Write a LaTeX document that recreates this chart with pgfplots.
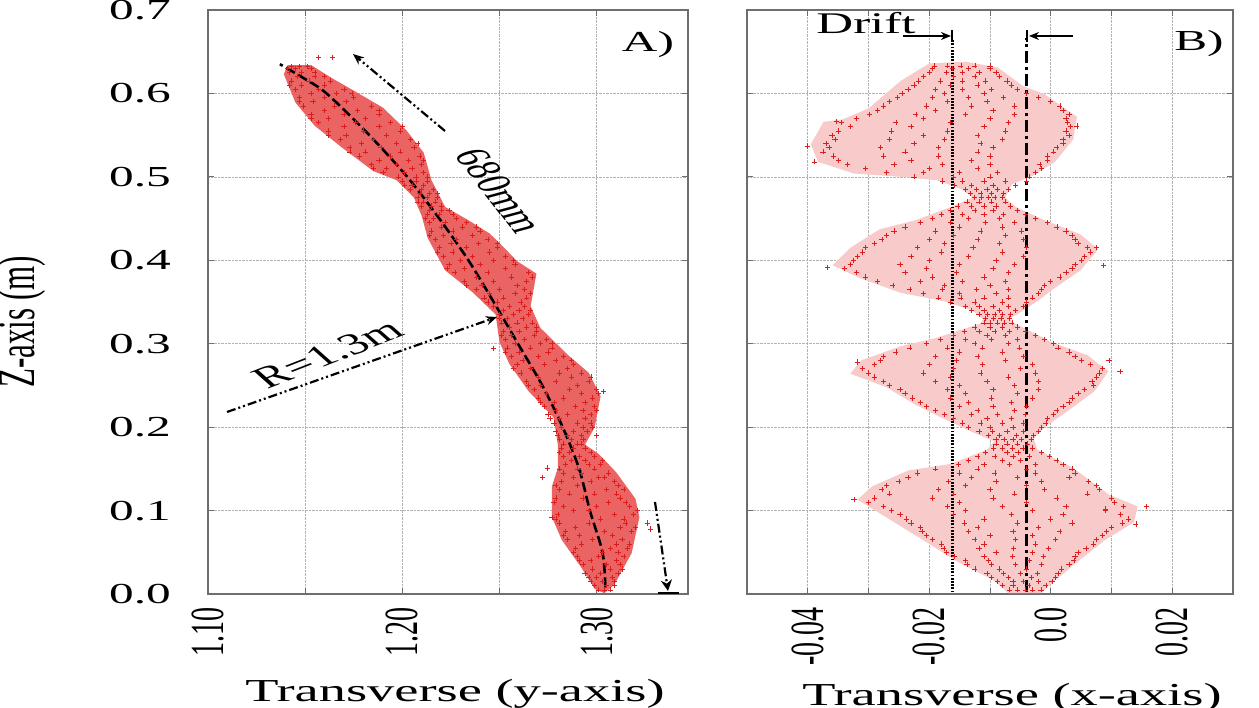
\documentclass[border=0pt]{standalone}
\usepackage{fontspec}
\setmainfont{Liberation Serif}
\usepackage{graphicx}
\usepackage{pgfplots}
\usepackage{pgfplotstable}
\pgfplotsset{compat=1.18}
\usetikzlibrary{arrows.meta}
\definecolor{ptred}{RGB}{218,30,30}
\definecolor{cloudA}{RGB}{234,100,100}
\definecolor{cloudB}{RGB}{248,202,202}
\definecolor{frame}{RGB}{110,110,110}
\newcommand{\hs}[2][29]{\scalebox{1.7}[1]{\fontsize{#1}{#1}\selectfont #2}}
\newcommand{\vs}[2][28]{\scalebox{1.7}[1]{\rotatebox{90}{\fontsize{#1}{#1}\selectfont #2}}}
\newcommand{\rs}[3]{\scalebox{1.7}[1]{\rotatebox{#1}{\fontsize{#2}{#2}\selectfont #3}}}

\pgfplotstableread{
z a b c
0.005 1.301 1.304 1.307
0.015 1.297 1.303 1.309
0.025 1.294 1.302 1.311
0.035 1.293 1.305 1.312
0.045 1.290 1.301 1.314
0.055 1.289 1.307 1.316
0.065 1.285 1.298 1.313
0.075 1.284 1.304 1.318
0.085 1.281 1.296 1.315
0.095 1.280 1.309 1.319
0.105 1.283 1.300 1.317
0.115 1.279 1.293 1.312
0.125 1.281 1.305 1.314
0.135 1.282 1.297 1.309
0.145 1.283 1.292 1.306
0.155 1.284 1.296 1.302
0.165 1.283 1.291 1.299
0.175 1.282 1.288 1.294
0.185 1.281 1.287 1.293
0.195 1.279 1.288 1.295
0.205 1.278 1.290 1.297
0.215 1.275 1.285 1.297
0.225 1.273 1.289 1.299
0.235 1.270 1.283 1.298
0.245 1.268 1.286 1.300
0.255 1.264 1.279 1.296
0.265 1.261 1.281 1.292
0.275 1.259 1.273 1.288
0.285 1.256 1.270 1.283
0.295 1.254 1.266 1.277
0.305 1.253 1.263 1.274
0.315 1.252 1.260 1.269
0.325 1.251 1.259 1.267
0.335 1.250 1.257 1.265
0.345 1.247 1.255 1.263
0.355 1.242 1.252 1.264
0.365 1.238 1.250 1.263
0.375 1.232 1.247 1.264
0.385 1.227 1.244 1.265
0.395 1.224 1.240 1.258
0.405 1.221 1.236 1.253
0.415 1.219 1.233 1.249
0.425 1.217 1.228 1.244
0.435 1.215 1.226 1.240
0.445 1.214 1.222 1.233
0.455 1.213 1.219 1.226
0.465 1.210 1.215 1.220
0.475 1.208 1.213 1.218
0.485 1.204 1.210 1.216
0.495 1.200 1.207 1.213
0.505 1.190 1.201 1.211
0.515 1.184 1.197 1.210
0.525 1.178 1.194 1.209
0.535 1.173 1.189 1.206
0.545 1.168 1.185 1.204
0.555 1.162 1.180 1.199
0.565 1.157 1.176 1.194
0.575 1.153 1.170 1.188
0.585 1.149 1.165 1.184
0.595 1.147 1.160 1.175
0.605 1.145 1.157 1.170
0.615 1.143 1.152 1.163
0.625 1.142 1.148 1.155
0.632 1.143 1.147 1.151
}\tabA

\pgfplotstableread{
z a b c
0.010 1.299 1.305 1.309
0.020 1.296 1.300 1.308
0.030 1.298 1.307 1.313
0.040 1.291 1.297 1.310
0.050 1.288 1.303 1.311
0.060 1.292 1.310 1.317
0.070 1.283 1.291 1.308
0.080 1.289 1.312 1.320
0.090 1.279 1.302 1.314
0.100 1.288 1.296 1.321
0.110 1.278 1.306 1.315
0.120 1.286 1.299 1.310
0.130 1.279 1.290 1.311
0.140 1.288 1.301 1.304
0.150 1.281 1.290 1.299
0.160 1.287 1.294 1.303
0.170 1.281 1.286 1.297
0.180 1.283 1.290 1.292
0.190 1.280 1.285 1.292
0.200 1.282 1.293 1.298
0.210 1.276 1.281 1.294
0.220 1.279 1.293 1.300
0.230 1.271 1.278 1.294
0.240 1.274 1.292 1.301
0.250 1.265 1.271 1.290
0.260 1.270 1.287 1.297
0.270 1.257 1.266 1.285
0.280 1.262 1.279 1.287
0.290 1.253 1.260 1.275
0.300 1.258 1.271 1.277
0.310 1.251 1.256 1.268
0.320 1.255 1.264 1.269
0.330 1.250 1.254 1.262
0.340 1.252 1.260 1.266
0.350 1.244 1.249 1.261
0.360 1.245 1.258 1.266
0.370 1.233 1.241 1.259
0.380 1.238 1.256 1.267
0.390 1.223 1.232 1.253
0.400 1.230 1.247 1.257
0.410 1.218 1.226 1.245
0.420 1.225 1.239 1.249
0.430 1.214 1.221 1.236
0.440 1.220 1.231 1.238
0.450 1.212 1.216 1.228
0.460 1.214 1.220 1.224
0.470 1.208 1.211 1.217
0.480 1.209 1.214 1.218
0.490 1.201 1.205 1.211
0.500 1.198 1.207 1.213
0.510 1.185 1.192 1.205
0.520 1.188 1.203 1.211
0.530 1.173 1.181 1.199
0.540 1.179 1.197 1.208
0.550 1.162 1.171 1.192
0.560 1.170 1.188 1.200
0.570 1.153 1.162 1.181
0.580 1.160 1.177 1.188
0.590 1.147 1.154 1.171
0.600 1.153 1.166 1.174
0.610 1.142 1.148 1.160
0.620 1.146 1.155 1.160
0.630 1.141 1.145 1.153
}\tabAA

\pgfplotstableread{
z a b c d e
0.005 -0.0068 -0.0055 -0.0042 -0.0030 -0.0016
0.015 -0.0088 -0.0062 -0.0045 -0.0020 0.0002
0.025 -0.0105 -0.0078 -0.0050 -0.0022 0.0012
0.035 -0.0138 -0.0098 -0.0058 -0.0015 0.0030
0.045 -0.0158 -0.0110 -0.0063 -0.0012 0.0040
0.055 -0.0176 -0.0118 -0.0061 -0.0004 0.0058
0.065 -0.0195 -0.0125 -0.0058 0.0008 0.0075
0.075 -0.0212 -0.0135 -0.0062 0.0015 0.0092
0.085 -0.0230 -0.0142 -0.0055 0.0035 0.0118
0.095 -0.0248 -0.0160 -0.0065 0.0020 0.0115
0.105 -0.0275 -0.0170 -0.0080 0.0025 0.0120
0.115 -0.0290 -0.0195 -0.0095 0.0010 0.0100
0.125 -0.0278 -0.0185 -0.0100 -0.0010 0.0080
0.135 -0.0250 -0.0168 -0.0090 -0.0015 0.0062
0.145 -0.0220 -0.0150 -0.0092 -0.0025 0.0040
0.155 -0.0152 -0.0110 -0.0068 -0.0025 0.0020
0.165 -0.0120 -0.0092 -0.0062 -0.0035 -0.0002
0.175 -0.0094 -0.0080 -0.0063 -0.0046 -0.0030
0.185 -0.0090 -0.0077 -0.0062 -0.0048 -0.0032
0.195 -0.0118 -0.0096 -0.0072 -0.0045 -0.0020
0.205 -0.0145 -0.0115 -0.0080 -0.0045 -0.0008
0.215 -0.0175 -0.0130 -0.0088 -0.0042 0.0005
0.225 -0.0205 -0.0150 -0.0095 -0.0040 0.0020
0.235 -0.0228 -0.0165 -0.0098 -0.0030 0.0035
0.245 -0.0248 -0.0170 -0.0095 -0.0020 0.0055
0.255 -0.0275 -0.0190 -0.0105 -0.0020 0.0068
0.265 -0.0300 -0.0210 -0.0115 -0.0025 0.0080
0.275 -0.0290 -0.0200 -0.0112 -0.0030 0.0065
0.285 -0.0275 -0.0190 -0.0120 -0.0045 0.0040
0.295 -0.0232 -0.0170 -0.0112 -0.0052 0.0012
0.305 -0.0182 -0.0140 -0.0098 -0.0055 -0.0010
0.315 -0.0142 -0.0118 -0.0092 -0.0068 -0.0042
0.325 -0.0110 -0.0100 -0.0088 -0.0076 -0.0064
0.335 -0.0118 -0.0104 -0.0092 -0.0080 -0.0066
0.345 -0.0140 -0.0118 -0.0095 -0.0070 -0.0045
0.355 -0.0185 -0.0148 -0.0110 -0.0070 -0.0030
0.365 -0.0232 -0.0178 -0.0122 -0.0070 -0.0015
0.375 -0.0285 -0.0215 -0.0145 -0.0075 0.0000
0.385 -0.0320 -0.0240 -0.0155 -0.0070 0.0025
0.395 -0.0330 -0.0248 -0.0150 -0.0060 0.0040
0.405 -0.0318 -0.0230 -0.0135 -0.0045 0.0055
0.415 -0.0305 -0.0220 -0.0128 -0.0040 0.0060
0.425 -0.0278 -0.0200 -0.0120 -0.0045 0.0040
0.435 -0.0258 -0.0190 -0.0115 -0.0048 0.0025
0.445 -0.0215 -0.0165 -0.0108 -0.0060 -0.0005
0.455 -0.0180 -0.0145 -0.0110 -0.0078 -0.0042
0.465 -0.0153 -0.0130 -0.0110 -0.0090 -0.0066
0.475 -0.0126 -0.0114 -0.0102 -0.0092 -0.0080
0.485 -0.0140 -0.0122 -0.0105 -0.0088 -0.0070
0.495 -0.0178 -0.0145 -0.0110 -0.0075 -0.0040
0.505 -0.0270 -0.0210 -0.0150 -0.0088 -0.0025
0.515 -0.0335 -0.0258 -0.0178 -0.0100 -0.0018
0.525 -0.0358 -0.0275 -0.0185 -0.0100 -0.0005
0.535 -0.0365 -0.0280 -0.0185 -0.0095 0.0010
0.545 -0.0355 -0.0265 -0.0175 -0.0080 0.0020
0.555 -0.0350 -0.0262 -0.0170 -0.0075 0.0025
0.565 -0.0345 -0.0255 -0.0165 -0.0070 0.0028
0.575 -0.0298 -0.0222 -0.0140 -0.0060 0.0030
0.585 -0.0275 -0.0205 -0.0130 -0.0060 0.0015
0.595 -0.0252 -0.0195 -0.0135 -0.0078 -0.0020
0.605 -0.0235 -0.0190 -0.0145 -0.0098 -0.0055
0.615 -0.0218 -0.0182 -0.0145 -0.0108 -0.0072
0.625 -0.0200 -0.0172 -0.0145 -0.0118 -0.0090
0.633 -0.0192 -0.0170 -0.0148 -0.0125 -0.0100
}\tabB

\pgfplotstableread{
z a b c d
0.010 -0.0080 -0.0062 -0.0036 -0.0008
0.020 -0.0098 -0.0070 -0.0032 0.0008
0.030 -0.0125 -0.0085 -0.0040 0.0018
0.040 -0.0140 -0.0102 -0.0035 0.0038
0.050 -0.0172 -0.0090 -0.0030 0.0045
0.060 -0.0180 -0.0110 -0.0025 0.0070
0.070 -0.0205 -0.0100 -0.0030 0.0085
0.080 -0.0215 -0.0120 -0.0020 0.0100
0.090 -0.0238 -0.0110 0.0000 0.0128
0.100 -0.0262 -0.0140 -0.0030 0.0090
0.110 -0.0300 -0.0150 -0.0040 0.0105
0.120 -0.0265 -0.0160 -0.0060 0.0060
0.130 -0.0270 -0.0140 -0.0040 0.0075
0.140 -0.0235 -0.0130 -0.0055 0.0030
0.150 -0.0190 -0.0120 -0.0040 0.0035
0.160 -0.0135 -0.0080 -0.0050 0.0010
0.170 -0.0108 -0.0072 -0.0054 -0.0015
0.180 -0.0090 -0.0072 -0.0055 -0.0038
0.190 -0.0102 -0.0085 -0.0056 -0.0028
0.200 -0.0135 -0.0100 -0.0062 -0.0015
0.210 -0.0160 -0.0105 -0.0065 -0.0005
0.220 -0.0190 -0.0120 -0.0060 0.0010
0.230 -0.0215 -0.0135 -0.0065 0.0030
0.240 -0.0240 -0.0140 -0.0055 0.0045
0.250 -0.0265 -0.0150 -0.0060 0.0070
0.260 -0.0290 -0.0165 -0.0070 0.0075
0.270 -0.0310 -0.0160 -0.0050 0.0085
0.280 -0.0280 -0.0155 -0.0075 0.0050
0.290 -0.0255 -0.0150 -0.0080 0.0030
0.300 -0.0205 -0.0125 -0.0070 0.0005
0.310 -0.0160 -0.0105 -0.0075 -0.0025
0.320 -0.0125 -0.0100 -0.0080 -0.0055
0.330 -0.0108 -0.0094 -0.0082 -0.0068
0.340 -0.0130 -0.0110 -0.0085 -0.0058
0.350 -0.0165 -0.0125 -0.0080 -0.0040
0.360 -0.0210 -0.0150 -0.0090 -0.0020
0.370 -0.0260 -0.0175 -0.0100 -0.0010
0.380 -0.0305 -0.0195 -0.0110 0.0015
0.390 -0.0340 -0.0205 -0.0095 0.0035
0.400 -0.0325 -0.0200 -0.0090 0.0050
0.410 -0.0310 -0.0180 -0.0080 0.0065
0.420 -0.0290 -0.0175 -0.0085 0.0045
0.430 -0.0270 -0.0160 -0.0075 0.0035
0.440 -0.0240 -0.0150 -0.0080 0.0010
0.450 -0.0195 -0.0135 -0.0085 -0.0025
0.460 -0.0165 -0.0125 -0.0095 -0.0055
0.470 -0.0138 -0.0118 -0.0098 -0.0075
0.480 -0.0132 -0.0115 -0.0098 -0.0078
0.490 -0.0158 -0.0130 -0.0095 -0.0058
0.500 -0.0225 -0.0160 -0.0100 -0.0035
0.510 -0.0305 -0.0200 -0.0120 -0.0015
0.520 -0.0350 -0.0230 -0.0130 -0.0005
0.530 -0.0375 -0.0240 -0.0120 0.0005
0.540 -0.0370 -0.0225 -0.0115 0.0020
0.550 -0.0360 -0.0210 -0.0120 0.0030
0.560 -0.0330 -0.0230 -0.0110 0.0032
0.570 -0.0320 -0.0210 -0.0100 0.0025
0.580 -0.0285 -0.0190 -0.0095 0.0020
0.590 -0.0265 -0.0170 -0.0105 0.0000
0.600 -0.0245 -0.0175 -0.0110 -0.0040
0.610 -0.0225 -0.0165 -0.0120 -0.0065
0.620 -0.0210 -0.0160 -0.0125 -0.0085
0.630 -0.0195 -0.0162 -0.0135 -0.0100
}\tabBB

\pgfplotsset{
  common/.style={
    anchor=south west, scale only axis, height=584pt,
    ymin=0, ymax=0.7,
    ytick={0,0.1,0.2,0.3,0.4,0.5,0.6,0.7},
    grid=both,
    major grid style={densely dotted, gray!60, line width=0.6pt},
    minor grid style={densely dotted, gray!60, line width=0.6pt},
    tick align=inside, major tick length=6pt, minor tick length=6pt,
    axis line style={frame, line width=1.2pt},
    every tick/.style={frame, line width=0.8pt},
    xticklabel style={anchor=north, inner sep=0pt, yshift=-13pt},
    yticklabel style={anchor=east, inner sep=0pt, xshift=-37pt},
    scaled x ticks=false, scaled y ticks=false,
  },
  pts/.style={only marks, mark=+, mark size=2.6pt, ptred, mark options={line width=0.6pt}},
}

\begin{document}
\begin{tikzpicture}[x=1pt,y=1pt]
\useasboundingbox (0,0) rectangle (1259,708);

% ---------- panel A ----------
\begin{axis}[common, at={(208pt,114pt)}, width=480pt,
  xmin=1.10, xmax=1.347,
  xtick={1.10,1.20,1.30}, xticklabels={\vs{1.10},\vs{1.20},\vs{1.30}},
  minor xtick={1.15,1.25},
  yticklabels={\hs{0.0},\hs{0.1},\hs{0.2},\hs{0.3},\hs{0.4},\hs{0.5},\hs{0.6},\hs{0.7}},
]
\addplot[fill=cloudA, draw=none] coordinates {
 (1.141,0.634) (1.139,0.623) (1.145,0.589) (1.155,0.561) (1.169,0.535) (1.185,0.507)
 (1.197,0.496) (1.206,0.475) (1.210,0.453) (1.213,0.427) (1.222,0.388) (1.236,0.362)
 (1.248,0.335) (1.250,0.302) (1.255,0.276) (1.265,0.243) (1.278,0.211) (1.280,0.179)
 (1.280,0.151) (1.277,0.129) (1.277,0.092) (1.282,0.065) (1.292,0.032) (1.299,0.006)
 (1.304,0.001) (1.309,0.011) (1.318,0.049) (1.322,0.092) (1.320,0.114) (1.310,0.146)
 (1.301,0.168) (1.294,0.179) (1.299,0.200) (1.302,0.237) (1.296,0.265) (1.285,0.287)
 (1.271,0.319) (1.266,0.345) (1.269,0.384) (1.259,0.399) (1.252,0.416) (1.245,0.432)
 (1.234,0.448) (1.222,0.464) (1.215,0.496) (1.211,0.529) (1.202,0.556) (1.190,0.583)
 (1.176,0.602) (1.164,0.618) (1.153,0.634) (1.141,0.634)};
\addplot[pts] table[x=a,y=z] {\tabA};
\addplot[pts] table[x=b,y=z] {\tabA};
\addplot[pts] table[x=c,y=z] {\tabA};
\addplot[pts] table[x=a,y=z] {\tabAA};
\addplot[pts] table[x=b,y=z] {\tabAA};
\addplot[pts] table[x=c,y=z] {\tabAA};
\addplot[pts] coordinates {(1.3278,0.078) (1.326,0.085) (1.2747,0.151) (1.2469,0.294)
 (1.157,0.643) (1.164,0.643) (1.3036,0.243) (1.277,0.092) (1.272,0.140) (1.300,0.190)};
\addplot[black, line width=2.6pt, dash pattern=on 10pt off 4pt, smooth] coordinates {
 (1.3045,0.008) (1.303,0.05) (1.2965,0.1) (1.291,0.15) (1.2825,0.2) (1.272,0.25)
 (1.2595,0.3) (1.247,0.35) (1.234,0.4) (1.219,0.45) (1.2025,0.5) (1.183,0.55)
 (1.161,0.6) (1.148,0.62) (1.137,0.635)};
\end{axis}

% ---------- panel B ----------
\begin{axis}[common, at={(747pt,114pt)}, width=486pt,
  xmin=-0.05, xmax=0.03,
  xtick={-0.04,-0.02,0,0.02}, xticklabels={\vs{-0.04},\vs{-0.02},\vs{0.0},\vs{0.02}},
  minor xtick={-0.03,-0.01,0.01},
  yticklabels={},
]
\addplot[fill=cloudB, draw=none] coordinates {
 (-0.0200,0.636) (-0.0247,0.615) (-0.0300,0.582) (-0.0342,0.569) (-0.0374,0.566)
 (-0.0395,0.539) (-0.0383,0.518) (-0.0324,0.504) (-0.0247,0.500) (-0.0188,0.496)
 (-0.0146,0.485) (-0.0129,0.475) (-0.0164,0.464) (-0.0223,0.448) (-0.0282,0.437)
 (-0.0330,0.415) (-0.0359,0.394) (-0.0312,0.378) (-0.0247,0.361) (-0.0176,0.351)
 (-0.0129,0.340) (-0.0111,0.329) (-0.0117,0.324) (-0.0188,0.307) (-0.0247,0.297)
 (-0.0312,0.280) (-0.0330,0.264) (-0.0271,0.248) (-0.0223,0.227) (-0.0176,0.210)
 (-0.0129,0.194) (-0.0093,0.183) (-0.0105,0.173) (-0.0164,0.156) (-0.0235,0.148)
 (-0.0294,0.129) (-0.0318,0.113) (-0.0271,0.092) (-0.0211,0.065) (-0.0152,0.038)
 (-0.0093,0.016) (-0.0070,0.001) (-0.0016,0.001) (0.0007,0.016) (0.0043,0.038)
 (0.0090,0.065) (0.0137,0.086) (0.0143,0.105) (0.0096,0.119) (0.0037,0.151)
 (-0.0022,0.173) (-0.0028,0.186) (-0.0010,0.200) (0.0031,0.221) (0.0072,0.243)
 (0.0095,0.267) (0.0080,0.275) (0.0061,0.286) (0.0001,0.302) (-0.0058,0.324)
 (-0.0070,0.330) (-0.0058,0.334) (-0.0022,0.351) (0.0007,0.367) (0.0049,0.388)
 (0.0078,0.413) (0.0049,0.431) (-0.0010,0.448) (-0.0058,0.464) (-0.0075,0.475)
 (-0.0064,0.491) (-0.0028,0.502) (0.0007,0.518) (0.0037,0.545) (0.0043,0.572)
 (-0.0010,0.599) (-0.0046,0.609) (-0.0087,0.631) (-0.0140,0.638) (-0.0200,0.636)};
\addplot[pts] table[x=a,y=z] {\tabB};
\addplot[pts] table[x=b,y=z] {\tabB};
\addplot[pts] table[x=c,y=z] {\tabB};
\addplot[pts] table[x=d,y=z] {\tabB};
\addplot[pts] table[x=e,y=z] {\tabB};
\addplot[pts] table[x=a,y=z] {\tabBB};
\addplot[pts] table[x=b,y=z] {\tabBB};
\addplot[pts] table[x=c,y=z] {\tabBB};
\addplot[pts] table[x=d,y=z] {\tabBB};
\addplot[pts] coordinates {(0.0114,0.267) (0.0158,0.105) (0.0140,0.084) (0.0087,0.394)
 (-0.0368,0.391) (-0.0401,0.537) (-0.0353,0.566) (-0.0318,0.278) (-0.0324,0.113)
 (0.0075,0.415) (0.0096,0.280) (0.0043,0.561) (-0.0389,0.518) (0.0090,0.102)};
\addplot[black, line width=3pt, dash pattern=on 1.8pt off 1.4pt] coordinates {(-0.0162,0.002) (-0.0162,0.664)};
\addplot[black, line width=2.8pt, dash pattern=on 12pt off 4pt on 3pt off 4pt] coordinates {(-0.0040,0.002) (-0.0040,0.666)};
\end{axis}

% ---------- texts and annotations ----------
\node at (22,386) {\vs[31]{Z-axis (m)}};
\node[anchor=base] at (455,6) {\hs[32]{Transverse (y-axis)}};
\node[anchor=base] at (1012,2) {\hs[32]{Transverse (x-axis)}};
\node at (648,663) {\hs[29]{A)}};
\node at (1199,664) {\hs[29]{B)}};
\node at (866,685) {\hs[30]{Drift}};
\node at (500,517) {\rs{-65.4}{29}{680mm}};
\node at (328,354) {\rs{33.6}{30}{R=1.3m}};

\tikzset{ddd/.style={line width=2.2pt, dash pattern=on 9pt off 3pt on 2pt off 3pt on 2pt off 3pt}}
\draw[ddd, -{Stealth[length=11pt,width=9pt]}] (445,577) -- (353,654);
\draw[ddd, -{Stealth[length=11pt,width=9pt]}] (227,296) -- (497,391);
\draw[ddd, -{Stealth[length=11pt,width=11pt]}] (655,206) -- (668,117);
\draw[line width=2pt] (658,115) -- (679,115);

\draw[line width=1.6pt, -{Stealth[length=10pt,width=8pt]}] (903,672) -- (951,672);
\draw[line width=1.6pt] (952,666) -- (952,678);
\draw[line width=1.6pt, -{Stealth[length=10pt,width=8pt]}] (1073,672) -- (1029,672);
\draw[line width=1.6pt] (1027,666) -- (1027,678);
\end{tikzpicture}
\end{document}
